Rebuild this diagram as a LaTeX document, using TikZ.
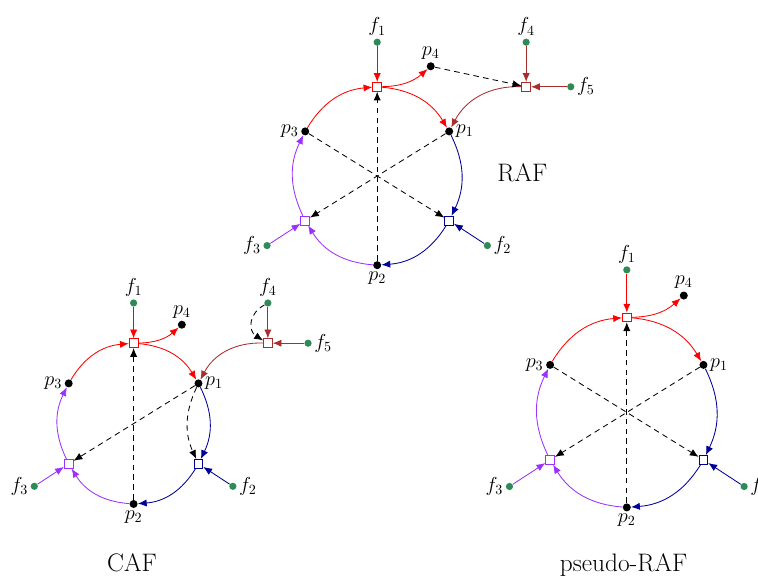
\documentclass[tikz,border=0pt]{standalone}
\usepackage{xcolor}
\usepackage{tikz}
\usetikzlibrary{arrows.meta, positioning}
\definecolor{rxnred}{RGB}{255,0,0}
\definecolor{rxnbrown}{RGB}{170,45,45}
\definecolor{rxnblue}{RGB}{0,0,150}
\definecolor{rxnpurple}{RGB}{155,48,255}
\definecolor{foodgreen}{RGB}{46,139,87}
\tikzset{
  rxn/.style={draw=#1, fill=white, rectangle, minimum size=2.2mm, inner sep=0pt, line width=0.6pt},
  mol/.style={circle, fill=black, minimum size=2mm, inner sep=0pt},
  food/.style={circle, fill=foodgreen, minimum size=1.8mm, inner sep=0pt},
  flow/.style={-{Latex[length=2.2mm, width=1.8mm]}, line width=0.6pt, #1},
  catal/.style={-{Latex[length=2.2mm, width=1.8mm]}, line width=0.6pt, black, dash pattern=on 4pt off 3pt},
  title/.style={font=\fontsize{18}{22}\selectfont, anchor=base},
  every label/.style={font=\Large, inner sep=1.5pt}
}
\newcommand{\rafcycle}[4]{%
  \begin{scope}[shift={(#1,#2)}, scale=#3]
    % reactions
    \node[rxn=rxnred]    (#4-t) at (0,1) {};
    \node[rxn=rxnblue]   (#4-b) at (0.807,-0.5) {};
    \node[rxn=rxnpurple] (#4-v) at (-0.807,-0.5) {};
    % molecules
    \node[mol, label=right:$p_1$] (#4-p1) at (0.807,0.5) {};
    \node[mol, label=below:$p_2$] (#4-p2) at (0,-1) {};
    \node[mol, label=left:$p_3$]  (#4-p3) at (-0.807,0.5) {};
    \node[mol, label=above:$p_4$] (#4-p4) at (0.6,1.23) {};
    % food
    \node[food, label=above:$f_1$] (#4-f1) at (0,1.5) {};
    \node[food, label=right:$f_2$] (#4-f2) at (1.235,-0.78) {};
    \node[food, label=left:$f_3$]  (#4-f3) at (-1.235,-0.78) {};
  \end{scope}
  \draw[flow=rxnred] (#4-f1) -- (#4-t);
  \draw[flow=rxnred] (#4-p3) to[bend left=27] (#4-t);
  \draw[flow=rxnred] (#4-t) to[bend left=27] (#4-p1);
  \draw[flow=rxnred] (#4-t) to[bend right=20] (#4-p4);
  \draw[flow=rxnblue] (#4-f2) -- (#4-b);
  \draw[flow=rxnblue] (#4-p1) to[bend left=26] (#4-b);
  \draw[flow=rxnblue] (#4-b) to[bend left=27] (#4-p2);
  \draw[flow=rxnpurple] (#4-f3) -- (#4-v);
  \draw[flow=rxnpurple] (#4-p2) to[bend left=27] (#4-v);
  \draw[flow=rxnpurple] (#4-v) to[bend left=26] (#4-p3);
}
\newcommand{\extrarxn}[4]{%
  \begin{scope}[shift={(#1,#2)}, scale=#3]
    \node[rxn=rxnbrown] (#4-w) at (1.67,1) {};
    \node[food, label=above:$f_4$] (#4-f4) at (1.67,1.5) {};
    \node[food, label=right:$f_5$] (#4-f5) at (2.17,1) {};
  \end{scope}
  \draw[flow=rxnbrown] (#4-f4) -- (#4-w);
  \draw[flow=rxnbrown] (#4-f5) -- (#4-w);
  \draw[flow=rxnbrown] (#4-w) to[bend right=32] (#4-p1);
}

\begin{document}
\begin{tikzpicture}
    \useasboundingbox (0,0) rectangle (18.95,14.4);

    % RAF
    \rafcycle{9.43}{10.0}{2.23}{raf}
    \extrarxn{9.43}{10.0}{2.23}{raf}
    \draw[catal] (raf-p2) -- (raf-t);
    \draw[catal] (raf-p3) -- (raf-b);
    \draw[catal] (raf-p1) -- (raf-v);
    \draw[catal] (raf-p4) -- (raf-w);
    \node[title] (raftitle) at (13.06,9.87) {RAF};

    % CAF
    \rafcycle{3.34}{3.81}{2.01}{caf}
    \extrarxn{3.34}{3.81}{2.01}{caf}
    \draw[catal] (caf-p2) -- (caf-t);
    \draw[catal] (caf-p1) -- (caf-v);
    \draw[catal] (caf-p1) to[bend right=25] (caf-b);
    \draw[catal] (caf-f4) to[bend right=60, looseness=1.3] (caf-w);
    \node[title] (caftitle) at (3.3,0.11) {CAF};

    % pseudo-RAF
    \rafcycle{15.67}{4.09}{2.375}{psr}
    \draw[catal] (psr-p2) -- (psr-t);
    \draw[catal] (psr-p3) -- (psr-b);
    \draw[catal] (psr-p1) -- (psr-v);
    \node[title] (psrtitle) at (15.59,0.11) {pseudo-RAF};
\end{tikzpicture}
\end{document}
